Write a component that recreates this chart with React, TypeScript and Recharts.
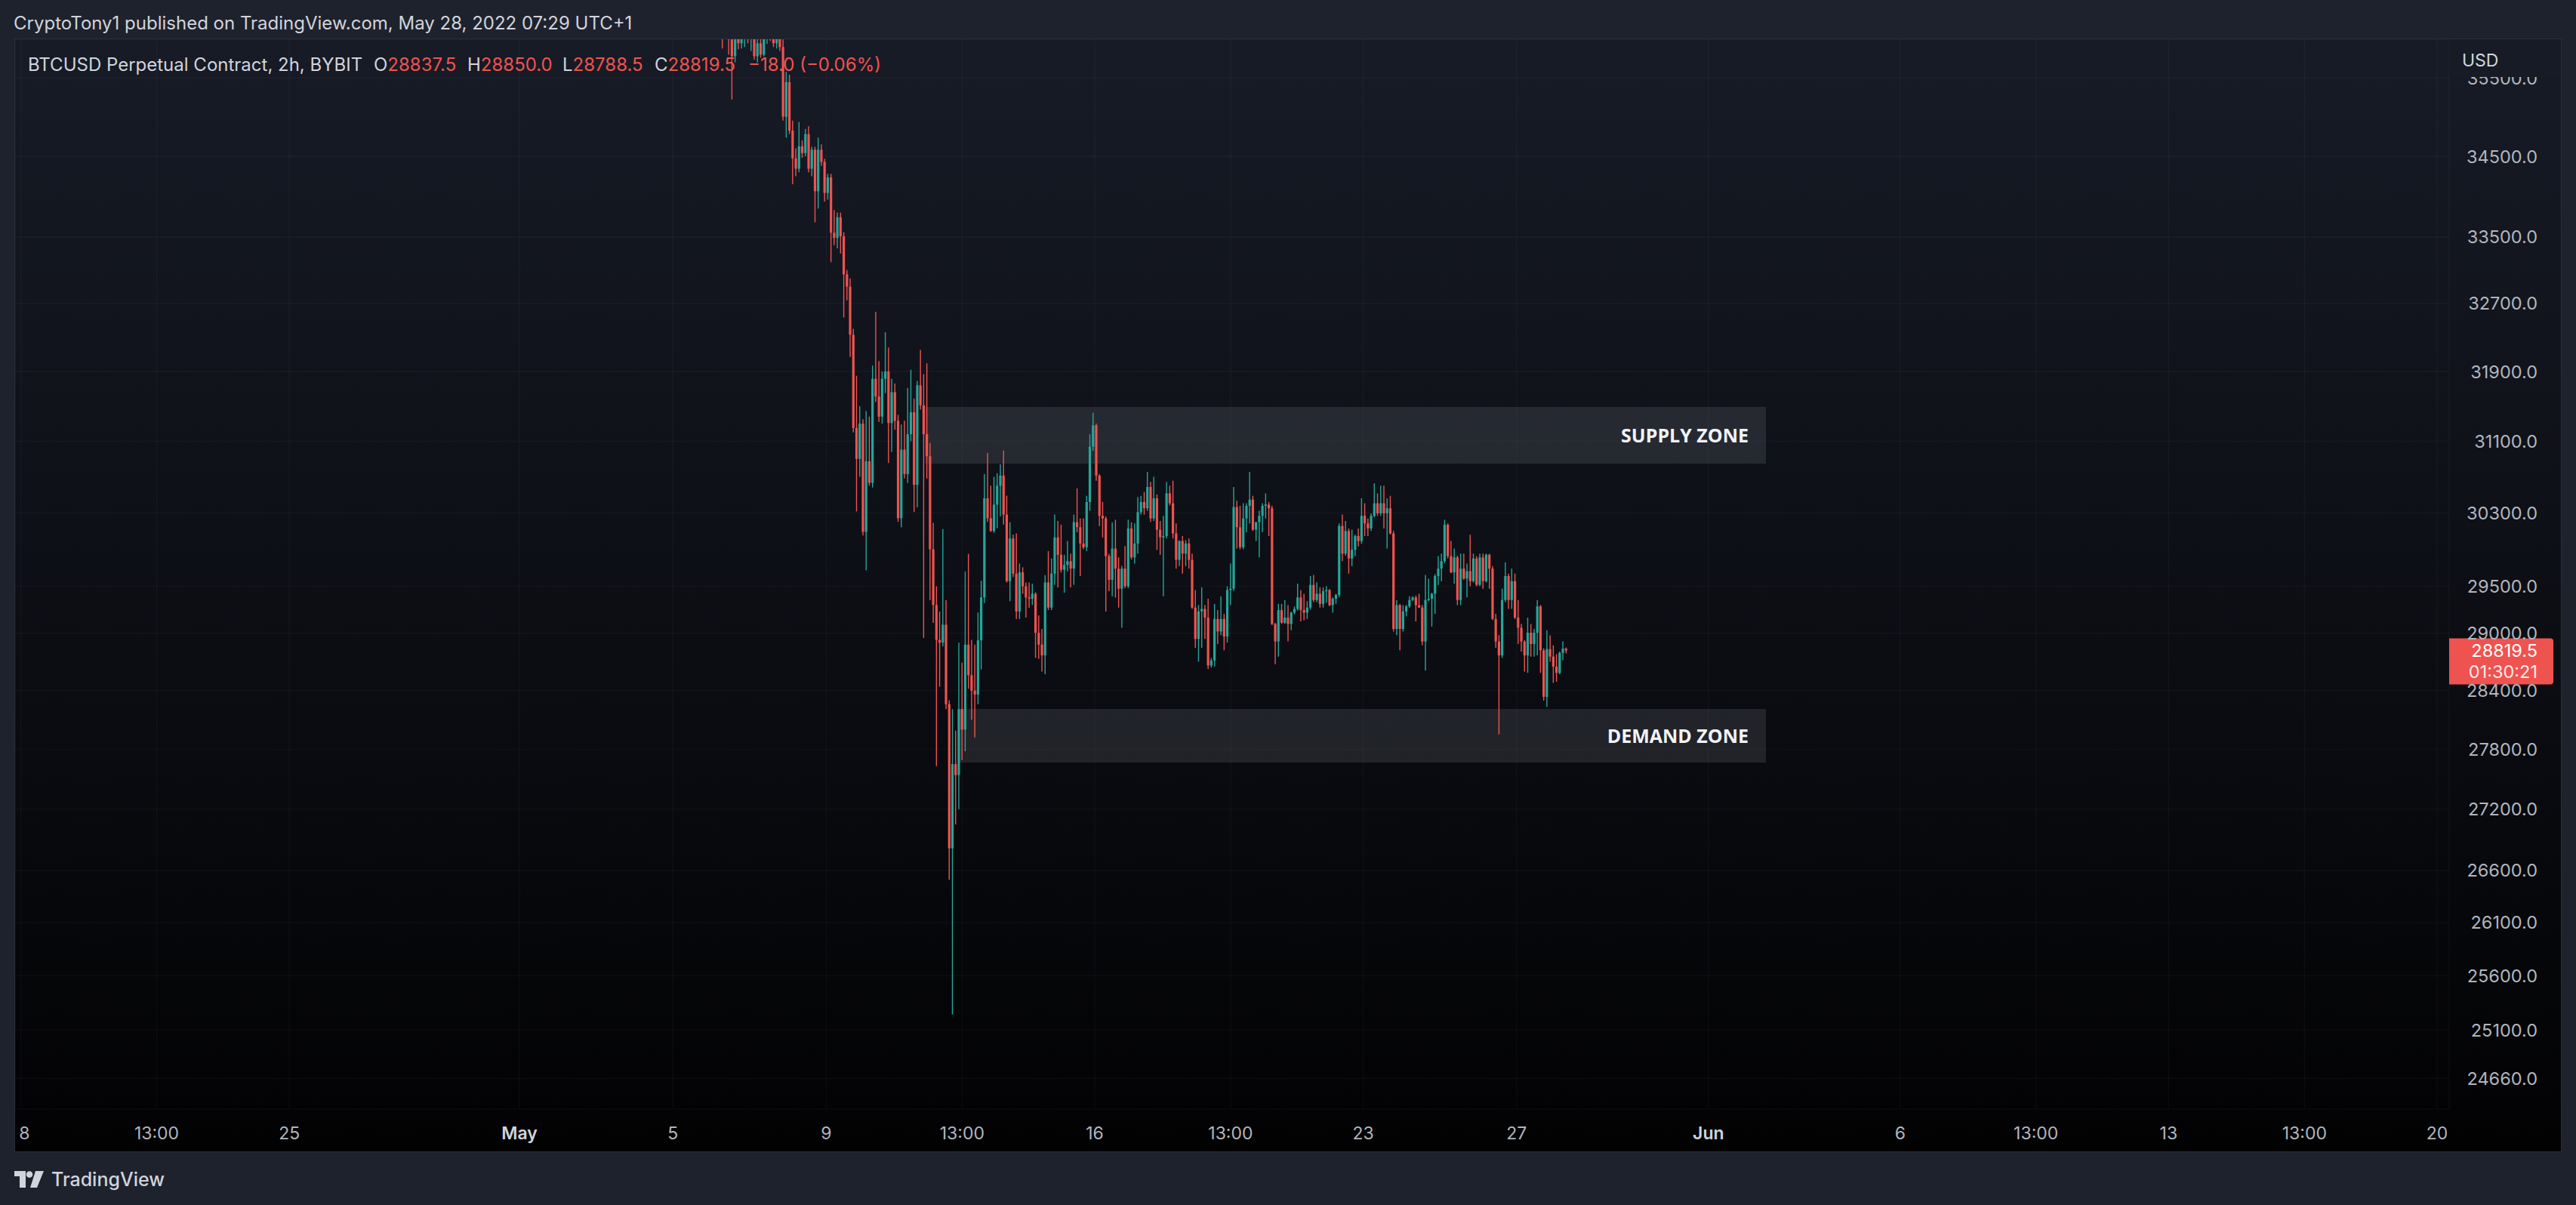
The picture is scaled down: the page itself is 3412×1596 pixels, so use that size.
import React from 'react';
import {
  ComposedChart,
  Bar,
  XAxis,
  YAxis,
  CartesianGrid,
  ReferenceArea,
  ReferenceLine,
} from 'recharts';

// 2h candles, BTCUSD Perpetual (BYBIT). Slot n opens at (1 + 2n) hours after May 1 00:00 (UTC+1).
const FIRST_SLOT = 63;

const opens = [
  36350, 36300, 36150, 36000, 35780, 36200, 35950, 36150, 36300, 36050,
  36150, 35780, 35950, 35800, 36150, 36300, 36100, 35950, 36050, 35900,
  35000, 35444, 34824, 34474, 34344, 34626, 34540, 34780, 34344, 34583,
  34064, 34583, 34430, 34043, 34236, 33553, 33489, 33743, 33510, 33049,
  32900, 32330, 31250, 30900, 31300, 30090, 30874, 30632, 31815, 31610,
  31380, 31815, 31900, 31307, 31660, 31332, 30240, 31005, 30730, 31180,
  31430, 30610, 31740, 31510, 31180, 30930, 29900, 29300, 28930, 28900,
  29090, 28260, 26815, 27650, 27540, 28210, 28000, 28880, 28560, 28400,
  28360, 28925, 29380, 30460, 30240, 30100, 30390, 30600, 30713, 30280,
  29555, 30018, 29636, 29230, 29650, 29500, 29380, 29366, 29420, 29005,
  28880, 28767, 29541, 29272, 29636, 30030, 29840, 29677, 29730, 29770,
  29690, 30197, 30142, 29963, 29922, 30419, 31038, 31280, 30713, 30266,
  30238, 29826, 29570, 29908, 29690, 29474, 29690, 29501, 30128, 29812,
  29963, 30307, 30419, 30350, 30586, 30238, 30460, 30114, 30031, 30045,
  30516, 30405, 30073, 29785, 29990, 29853, 29963, 29785, 29272, 28940,
  29231, 29258, 29165, 28662, 28714, 29151, 29018, 29151, 28966, 29460,
  29474, 30363, 30141, 29922, 30238, 30377, 30446, 30114, 30197, 30266,
  30377, 30391, 30350, 29098, 28913, 29245, 29111, 29165, 29098, 29218,
  29258, 29380, 29245, 29218, 29272, 29515, 29353, 29420, 29312, 29447,
  29460, 29298, 29366, 29406, 30155, 29853, 30100, 29800, 29895, 30045,
  29990, 30266, 30183, 30128, 30266, 30405, 30294, 30405, 30294, 30350,
  30073, 29045, 29298, 29045, 29231, 29285, 29353, 29380, 29298, 29272,
  28913, 29353, 29366, 29420, 29610, 29690, 29772, 30169, 29826, 29650,
  29812, 29353, 29690, 29582, 29663, 29555, 29800, 29515, 29812, 29555,
  29840, 29690, 29151, 28913, 28767, 29353, 29610, 29353, 29555, 29165,
  29058, 28913, 28767, 29005, 28886, 29005, 29285, 28820, 28336, 28833,
  28754, 28649, 28584, 28794, 28837.5,
];

const highs = [
  36500, 36450, 36300, 36050, 36300, 36400, 36250, 36350, 36400, 36250,
  36250, 36100, 36050, 36200, 36400, 36450, 36200, 36150, 36150, 36000,
  35578, 35540, 34950, 34600, 34934, 34700, 34846, 34880, 34620, 34620,
  34736, 34650, 34470, 34280, 34280, 33830, 33800, 33800, 33560, 33100,
  33000, 32400, 31850, 31500, 31350, 31444, 31380, 31970, 32600, 32020,
  31900, 32359, 32180, 31815, 31760, 31400, 31290, 31332, 31710, 31920,
  31585, 31790, 32150, 31870, 31995, 31080, 30190, 29500, 29230, 30120,
  29350, 28300, 28210, 27990, 28900, 28690, 29660, 29850, 28930, 28880,
  29220, 29560, 30730, 30966, 30600, 30700, 30740, 30840, 30995, 30490,
  30195, 30060, 30073, 29745, 29705, 29540, 29540, 29528, 29435, 29190,
  29045, 29620, 29880, 29800, 30280, 30210, 30170, 29840, 29990, 29853,
  30280, 30572, 30238, 30238, 30488, 31180, 31424, 31300, 30730, 30418,
  30260, 29850, 30196, 30224, 29812, 29720, 29936, 30224, 30196, 30183,
  30474, 30488, 30530, 30755, 30642, 30700, 30502, 30210, 30266, 30642,
  30600, 30656, 30183, 30000, 30045, 30000, 30018, 29853, 29460, 29300,
  29488, 29300, 29366, 28740, 29312, 29245, 29393, 29205, 29500, 29745,
  30586, 30432, 30377, 30405, 30405, 30755, 30488, 30200, 30322, 30405,
  30516, 30419, 30377, 29110, 29312, 29312, 29353, 29298, 29230, 29285,
  29528, 29460, 29420, 29340, 29610, 29623, 29542, 29488, 29488, 29500,
  29470, 29380, 29420, 30183, 30280, 30210, 30128, 30114, 30059, 30128,
  30460, 30405, 30238, 30294, 30628, 30516, 30600, 30600, 30460, 30488,
  30100, 29353, 29310, 29298, 29300, 29393, 29393, 29400, 29420, 29300,
  29623, 29582, 29430, 29630, 29826, 29853, 30224, 30183, 29990, 29908,
  29830, 29853, 29853, 29745, 30059, 29853, 29826, 29853, 29853, 29853,
  29850, 29717, 29205, 28980, 29474, 29758, 29636, 29690, 29636, 29353,
  29100, 28926, 29165, 29098, 29045, 29353, 29300, 28840, 29031, 28978,
  28873, 28780, 28807, 28913, 28850,
];

const lows = [
  35880, 36050, 35800, 35220, 35700, 35870, 35880, 35900, 35950, 35850,
  35735, 35700, 35760, 35780, 35940, 35980, 35900, 35880, 35850, 34950,
  34736, 34780, 34150, 34250, 34300, 34480, 34500, 34300, 34250, 33680,
  33850, 34380, 33935, 33960, 33195, 33400, 33363, 33300, 32533, 32738,
  32070, 31200, 30315, 30700, 30050, 29673, 30600, 30580, 31550, 31320,
  31300, 31650, 30855, 30980, 31230, 30200, 30140, 30680, 30630, 31100,
  30310, 30360, 31460, 28950, 30680, 29350, 29110, 27630, 28440, 28860,
  28210, 26510, 25240, 27050, 27200, 27690, 27780, 28420, 28100, 27920,
  28260, 28620, 29320, 30200, 30090, 30080, 30130, 30260, 30170, 29540,
  29340, 29600, 29150, 29150, 29420, 29165, 29270, 29300, 28740, 28730,
  28597, 28570, 29245, 29245, 29515, 29488, 29650, 29430, 29660, 29488,
  29515, 30086, 29610, 29900, 29880, 30322, 30990, 30656, 30155, 30030,
  29230, 29447, 29393, 29380, 29272, 29058, 29480, 29480, 29790, 29745,
  29853, 30280, 30280, 30320, 30200, 30210, 29894, 29840, 29393, 30018,
  30380, 30018, 29690, 29717, 29636, 29717, 29690, 29258, 28846, 28700,
  28846, 28940, 28623, 28640, 28650, 28886, 28980, 28820, 28900, 29298,
  29450, 29908, 29900, 29900, 30086, 30183, 30100, 29990, 29812, 30086,
  30238, 30045, 29085, 28675, 28754, 29100, 29100, 28913, 29031, 29200,
  29240, 29125, 29138, 29151, 29250, 29330, 29330, 29272, 29272, 29325,
  29285, 29218, 29312, 29380, 29772, 29830, 29636, 29717, 29826, 29930,
  29960, 30045, 30045, 30100, 30250, 30266, 30266, 30128, 29908, 30060,
  29018, 28980, 28820, 29018, 29178, 29270, 29340, 29125, 29270, 28873,
  28610, 29340, 29071, 29205, 29515, 29555, 29750, 29800, 29640, 29528,
  29298, 29298, 29570, 29380, 29500, 29540, 29500, 29500, 29474, 29540,
  29474, 29140, 28846, 27950, 28740, 29330, 29258, 29258, 29150, 28886,
  28807, 28597, 28584, 28754, 28754, 28767, 28584, 28297, 28233, 28700,
  28480, 28492, 28571, 28715, 28788.5,
];

const closes = [
  36300, 36150, 36000, 35780, 36200, 35950, 36150, 36300, 36050, 36150,
  35780, 35950, 35800, 36150, 36300, 36100, 35950, 36050, 35900, 35000,
  35444, 34824, 34474, 34344, 34626, 34540, 34780, 34344, 34583, 34064,
  34583, 34430, 34043, 34236, 33553, 33489, 33743, 33510, 33049, 32900,
  32330, 31250, 30900, 31300, 30090, 30874, 30632, 31815, 31610, 31380,
  31815, 31900, 31307, 31660, 31332, 30240, 31005, 30730, 31180, 31430,
  30610, 31740, 31510, 31180, 30930, 29900, 29300, 28930, 28900, 29090,
  28260, 26815, 27650, 27540, 28210, 28000, 28880, 28560, 28400, 28360,
  28925, 29380, 30460, 30240, 30100, 30390, 30600, 30713, 30280, 29555,
  30018, 29636, 29230, 29650, 29500, 29380, 29366, 29420, 29005, 28880,
  28767, 29541, 29272, 29636, 30030, 29840, 29677, 29730, 29770, 29690,
  30197, 30142, 29963, 29922, 30419, 31038, 31280, 30713, 30266, 30238,
  29826, 29570, 29908, 29690, 29474, 29690, 29501, 30128, 29812, 29963,
  30307, 30419, 30350, 30586, 30238, 30460, 30114, 30031, 30045, 30516,
  30405, 30073, 29785, 29990, 29853, 29963, 29785, 29272, 28940, 29231,
  29258, 29165, 28662, 28714, 29151, 29018, 29151, 28966, 29460, 29474,
  30363, 30141, 29922, 30238, 30377, 30446, 30114, 30197, 30266, 30377,
  30391, 30350, 29098, 28913, 29245, 29111, 29165, 29098, 29218, 29258,
  29380, 29245, 29218, 29272, 29515, 29353, 29420, 29312, 29447, 29460,
  29298, 29366, 29406, 30155, 29853, 30100, 29800, 29895, 30045, 29990,
  30266, 30183, 30128, 30266, 30405, 30294, 30405, 30294, 30350, 30073,
  29045, 29298, 29045, 29231, 29285, 29353, 29380, 29298, 29272, 28913,
  29353, 29366, 29420, 29610, 29690, 29772, 30169, 29826, 29650, 29812,
  29353, 29690, 29582, 29663, 29555, 29800, 29515, 29812, 29555, 29840,
  29690, 29151, 28913, 28767, 29353, 29610, 29353, 29555, 29165, 29058,
  28913, 28767, 29005, 28886, 29005, 29285, 28820, 28336, 28833, 28754,
  28649, 28584, 28794, 28837.5, 28819.5,
];

// time axis (days since May 1 00:00)
const timeTicks = [-13, -9.4583, -6, 0, 4, 8, 11.5417, 15, 18.5417, 22, 26, 31, 36, 39.5417, 43, 46.5417, 50];
const timeLabels = ['18', '13:00', '25', 'May', '5', '9', '13:00', '16', '13:00', '23', '27', 'Jun', '6', '13:00', '13', '13:00', '20'];
const monthLabels = ['May', 'Jun'];
const xDomain = [-13.15, 50.315];

// price axis (log)
const priceTicks = [35500, 34500, 33500, 32700, 31900, 31100, 30300, 29500, 29000, 28400, 27800, 27200, 26600, 26100, 25600, 25100, 24660];
const yDomain = [24386, 36002];

// zones: [fromDay, toDay, lowPrice, highPrice]
const supplyZone = [10.57, 32.5, 30847, 31490];
const demandZone = [11.46, 32.5, 27666, 28211];
const countdown = '01:30:21';

const UP = '#26a69a';
const DOWN = '#ef5350';
const FONT = 'Inter, "Noto Sans", sans-serif';

const n = closes.length;
const candles = closes.map((c, i) => ({
  t: (1 + 2 * (FIRST_SLOT + i)) / 24,
  open: opens[i],
  high: highs[i],
  low: lows[i],
  close: c,
  range: [lows[i], highs[i]],
}));
const last = candles[n - 1];
const prevClose = closes[n - 2];
const change = last.close - prevClose;
const changePct = (change / prevClose) * 100;
const fmt = (v: number, d: number) => v.toFixed(d).replace('-', '\u2212');

const Candle = (props: any) => {
  const { x, y, width, height, payload } = props;
  if (x == null || y == null || !payload) return null;
  const { open, close, high, low } = payload;
  const color = close >= open ? UP : DOWN;
  const cx = x + width / 2;
  const lh = Math.log(high);
  const ll = Math.log(low);
  const span = lh - ll;
  // log scale: interpolate in log space between the high (y) and the low (y + height)
  const py = (v: number) => (span > 0 ? y + (height * (lh - Math.log(v))) / span : y);
  const a = py(open);
  const b = py(close);
  const top = Math.min(a, b);
  const bh = Math.max(Math.abs(a - b), 1.4);
  const bw = 3.2;
  return (
    <g>
      <line x1={cx} x2={cx} y1={y} y2={y + height} stroke={color} strokeWidth={1.4} />
      <rect x={cx - bw / 2} y={top} width={bw} height={bh} fill={color} />
    </g>
  );
};

const TimeTick = (props: any) => {
  const { x, y, payload, index } = props;
  const label = timeLabels[timeTicks.indexOf(payload.value)] ?? '';
  const isMonth = monthLabels.includes(label);
  const id = `tclip-${index}`;
  return (
    <g>
      <defs>
        <clipPath id={id}>
          <rect x={6} y={0} width={3215} height={1473} />
        </clipPath>
      </defs>
      <text
        x={x}
        y={y}
        dy={40}
        textAnchor="middle"
        clipPath={`url(#${id})`}
        fill={isMonth ? '#d1d4dc' : '#b2b5be'}
        fontSize={23}
        fontWeight={isMonth ? 600 : 400}
        fontFamily={FONT}
      >
        {label}
      </text>
    </g>
  );
};

const PriceTick = (props: any) => {
  const { x, y, payload } = props;
  return (
    <text x={x + 117} y={y} dy={8.5} textAnchor="end" fill="#b2b5be" fontSize={23.5} fontFamily={FONT}>
      {payload.value.toFixed(1)}
    </text>
  );
};

const zoneLabel = (text: string) => (props: any) => {
  const vb = props.viewBox;
  if (!vb) return null;
  return (
    <text
      x={vb.x + vb.width - 23}
      y={vb.y + vb.height / 2}
      dy={9}
      textAnchor="end"
      fill="#f0f3fa"
      fontSize={25}
      fontWeight={700}
      fontFamily={'"Open Sans", Inter, sans-serif'}
    >
      {text}
    </text>
  );
};

const PriceTag = (props: any) => {
  const vb = props.viewBox;
  if (!vb) return null;
  const xr = vb.x + vb.width;
  const y = vb.y;
  return (
    <g>
      <path d={`M${xr},${y - 16} H${xr + 134} a4,4 0 0 1 4,4 V${y + 41} a4,4 0 0 1 -4,4 H${xr} Z`} fill={DOWN} />
      <text x={xr + 117} y={y} dy={8.5} textAnchor="end" fill="#ffffff" fontSize={23.5} fontFamily={FONT}>
        {last.close.toFixed(1)}
      </text>
      <text x={xr + 117} y={y + 28} dy={8.5} textAnchor="end" fill="#ffffff" fillOpacity={0.9} fontSize={23.5} fontFamily={FONT}>
        {countdown}
      </text>
    </g>
  );
};

const legendPart = (left: number, label: string, value: string) => (
  <div style={{ position: 'absolute', left, top: 20, lineHeight: '28px', fontSize: 24, whiteSpace: 'nowrap' }}>
    <span style={{ color: '#d1d4dc' }}>{label}</span>
    <span style={{ color: DOWN }}>{value}</span>
  </div>
);

const Logo = () => (
  <svg width={40} height={23} viewBox="0 0 40 23" style={{ position: 'absolute', left: 19, top: 1551 }}>
    <rect x={0} y={0} width={15} height={7} fill="#d1d4dc" />
    <rect x={7} y={0} width={8} height={22} fill="#d1d4dc" />
    <circle cx={20} cy={4.5} r={4.3} fill="#d1d4dc" />
    <polygon points="28,0 39,0 30,22 21,22" fill="#d1d4dc" />
  </svg>
);

export default function App() {
  return (
    <div
      style={{
        position: 'absolute',
        left: 0,
        top: 0,
        width: 3412,
        height: 1596,
        background: '#1e222d',
        overflow: 'hidden',
        fontFamily: FONT,
      }}
    >
      <div style={{ position: 'absolute', left: 18, top: 17, lineHeight: '28px', fontSize: 24, color: '#d1d4dc', whiteSpace: 'nowrap' }}>
        CryptoTony1 published on TradingView.com, May 28, 2022 07:29 UTC+1
      </div>

      <div
        style={{
          position: 'absolute',
          left: 20,
          top: 52,
          width: 3372,
          height: 1473,
          background: 'linear-gradient(#171b26, #020203)',
          boxShadow: '0 0 0 1px #2a2e39',
          overflow: 'hidden',
        }}
      >
        <div style={{ position: 'absolute', left: 17, top: 20, lineHeight: '28px', fontSize: 24, color: '#d1d4dc', whiteSpace: 'nowrap' }}>
          BTCUSD Perpetual Contract, 2h, BYBIT
        </div>
        {legendPart(475, 'O', last.open.toFixed(1))}
        {legendPart(599, 'H', last.high.toFixed(1))}
        {legendPart(725, 'L', last.low.toFixed(1))}
        {legendPart(847, 'C', last.close.toFixed(1))}
        {legendPart(971, '', `${fmt(change, 1)} (${fmt(changePct, 2)}%)`)}

        <div style={{ position: 'absolute', left: 0, top: 0, width: 3372, height: 1473, overflow: 'hidden' }}>
          <ComposedChart
            width={3372}
            height={1473}
            data={candles}
            margin={{ top: 0, right: 0, bottom: 0, left: 0 }}
          >
            <CartesianGrid stroke="rgba(255,255,255,0.03)" strokeWidth={1.5} />
            <XAxis
              dataKey="t"
              type="number"
              domain={xDomain}
              allowDataOverflow
              ticks={timeTicks}
              interval={0}
              height={56}
              axisLine={false}
              tickLine={false}
              tickSize={0}
              tickMargin={0}
              tick={<TimeTick />}
            />
            <YAxis
              orientation="right"
              scale="log"
              domain={yDomain}
              allowDataOverflow
              ticks={priceTicks}
              interval={0}
              width={148}
              axisLine={false}
              tickLine={false}
              tickSize={0}
              tickMargin={0}
              tick={<PriceTick />}
            />
            <Bar dataKey="range" barSize={4} shape={<Candle />} isAnimationActive={false} />
            <ReferenceArea
              x1={supplyZone[0]}
              x2={supplyZone[1]}
              y1={supplyZone[2]}
              y2={supplyZone[3]}
              fill="#787b86"
              fillOpacity={0.22}
              stroke="none"
              label={zoneLabel('SUPPLY ZONE')}
            />
            <ReferenceArea
              x1={demandZone[0]}
              x2={demandZone[1]}
              y1={demandZone[2]}
              y2={demandZone[3]}
              fill="#787b86"
              fillOpacity={0.22}
              stroke="none"
              label={zoneLabel('DEMAND ZONE')}
            />
            <ReferenceLine y={last.close} stroke="none" label={PriceTag} />
          </ComposedChart>
        </div>

        <div
          style={{
            position: 'absolute',
            left: 3224,
            top: 0,
            width: 148,
            height: 50,
            background: '#171b26',
          }}
        >
          <div style={{ position: 'absolute', left: 17, top: 14, lineHeight: '28px', fontSize: 23, color: '#d1d4dc' }}>USD</div>
        </div>
      </div>

      <Logo />
      <div style={{ position: 'absolute', left: 68, top: 1548, lineHeight: '28px', fontSize: 25, fontWeight: 500, color: '#d1d4dc', whiteSpace: 'nowrap' }}>
        TradingView
      </div>
    </div>
  );
}
